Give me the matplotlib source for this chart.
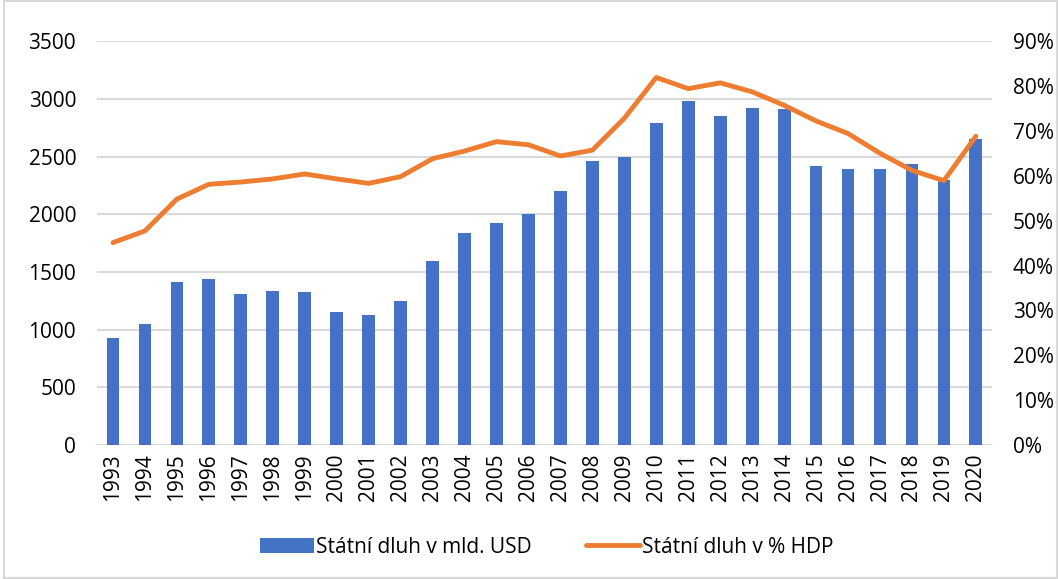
import matplotlib.pyplot as plt
import numpy as np
from matplotlib.ticker import PercentFormatter

# Data
years = [str(y) for y in range(1993, 2021)]
debt_usd = [925, 1049, 1415, 1438, 1306, 1338, 1326, 1150, 1127, 1248,
            1594, 1837, 1924, 2004, 2201, 2458, 2493, 2790, 2981, 2848,
            2923, 2915, 2415, 2392, 2392, 2435, 2295, 2649]
debt_pct = [45.1, 47.7, 54.8, 58.1, 58.6, 59.3, 60.4, 59.3, 58.3, 59.8,
            63.8, 65.5, 67.6, 66.9, 64.4, 65.7, 72.8, 81.9, 79.4, 80.7,
            78.7, 75.7, 72.2, 69.4, 65.0, 61.2, 58.9, 68.8]

plt.rcParams['font.family'] = ['Open Sans', 'DejaVu Sans']

fig = plt.figure(figsize=(10.59, 5.79), dpi=100)
ax = fig.add_axes([0.0916, 0.2314, 0.845, 0.6976])
ax2 = ax.twinx()

x = np.arange(len(years))
bars = ax.bar(x, debt_usd, width=0.4, color='#4472C4', zorder=2,
              label='Státní dluh v mld. USD')
line, = ax2.plot(x, debt_pct, color='#ED7D31', linewidth=3.5,
                 solid_capstyle='round', label='Státní dluh v % HDP')

ax.set_xlim(-0.5, len(years) - 0.5)
ax.set_ylim(0, 3500)
ax.set_yticks(range(0, 3501, 500))
ax2.set_ylim(0, 90)
ax2.set_yticks(range(0, 91, 10))
ax2.yaxis.set_major_formatter(PercentFormatter(decimals=0))

ax.set_xticks(x)
ax.set_xticklabels(years, rotation=90)
ax.grid(axis='y', color='#d9d9d9', linewidth=1.5, zorder=0)
ax.set_axisbelow(True)

for a in (ax, ax2):
    for s in a.spines.values():
        s.set_visible(False)
    a.tick_params(length=0, labelsize=15, colors='#000000')
ax.tick_params(axis='y', pad=15)
ax.tick_params(axis='x', pad=6)
ax2.tick_params(axis='y', pad=15)

fig.legend(handles=[bars, line], loc='center', bbox_to_anchor=(0.516, 0.055),
           ncol=2, frameon=False, fontsize=15, handlelength=2.6,
           columnspacing=2.6, handletextpad=0.1)

fig.patches.append(plt.Rectangle((0.004, 0.002), 0.994, 0.996, transform=fig.transFigure,
                                 fill=False, edgecolor='#d9d9d9', linewidth=1.5))

plt.savefig('out.png', dpi=100)
